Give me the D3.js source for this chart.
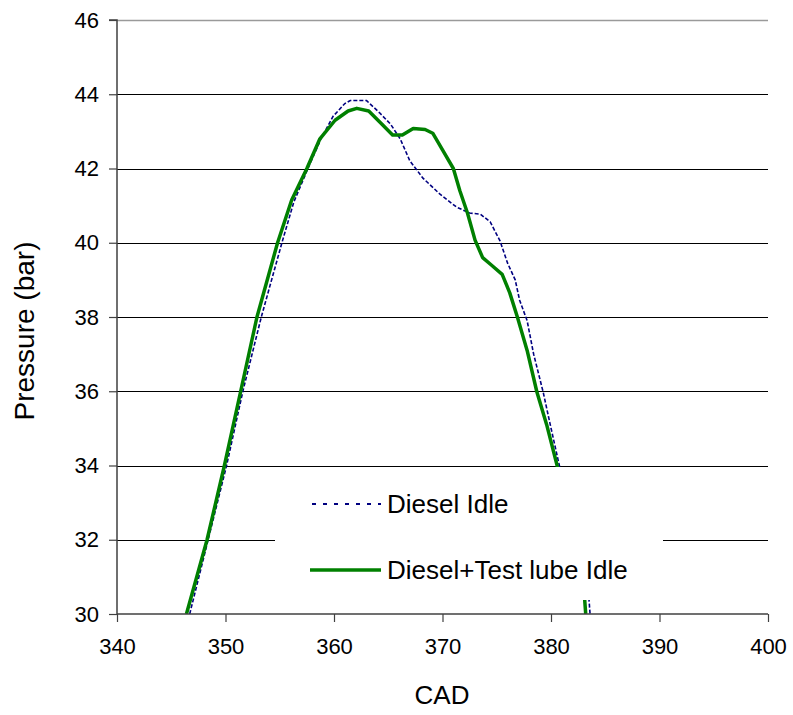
<!DOCTYPE html>
<html>
<head>
<meta charset="utf-8">
<script src="https://cdn.jsdelivr.net/npm/d3@7"></script>
<style>
  body { margin: 0; background: #fff; }
  svg text { font-family: "Liberation Sans", Arial, sans-serif; fill: #000; }
</style>
</head>
<body>
<svg id="chart" width="793" height="715"></svg>
<script>
// crank angle (CAD) and cylinder pressure (bar)
const dieselCad = [346.7, 348.4, 350.1, 351.6, 353.3, 355.2, 356.3, 357.6, 358.8, 359.9, 361.0, 361.5, 363.0, 364.2, 365.2, 366.1, 367.0, 368.2, 369.8, 371.3, 372.5, 373.5, 374.4, 375.3, 376.0, 376.7, 377.1, 377.8, 378.4, 379.3, 379.9, 380.8, 381.7, 382.8, 383.5, 383.6];
const dieselP   = [30.0, 32.0, 34.0, 36.0, 38.0, 40.0, 41.1, 42.0, 42.8, 43.4, 43.75, 43.83, 43.83, 43.5, 43.2, 42.8, 42.2, 41.74, 41.3, 40.96, 40.8, 40.77, 40.56, 40.05, 39.45, 39.0, 38.46, 37.9, 37.0, 35.95, 35.14, 33.96, 33.0, 31.5, 30.4, 30.0];

const lubeCad = [346.4, 348.3, 349.9, 351.4, 352.9, 354.8, 356.1, 357.5, 358.7, 360.1, 361.3, 362.1, 363.2, 364.4, 365.4, 366.3, 367.3, 368.4, 369.1, 370.0, 371.0, 371.6, 372.3, 373.0, 373.7, 374.5, 375.5, 376.2, 376.9, 377.8, 378.7, 379.6, 380.6, 381.5, 382.5, 383.1, 383.2];
const lubeP   = [30.0, 32.0, 34.0, 36.0, 38.0, 40.0, 41.15, 42.0, 42.8, 43.3, 43.55, 43.62, 43.55, 43.2, 42.9, 42.9, 43.08, 43.05, 42.95, 42.5, 42.0, 41.4, 40.8, 40.07, 39.6, 39.4, 39.15, 38.65, 38.0, 37.1, 35.98, 35.1, 33.96, 33.0, 31.5, 30.4, 30.0];

const xTicks = [340, 350, 360, 370, 380, 390, 400];
const yTicks = [30, 32, 34, 36, 38, 40, 42, 44, 46];
const seriesNames = ["Diesel Idle", "Diesel+Test lube Idle"];

const svg = d3.select("#chart");
const plotLeft = 117, plotRight = 768, plotTop = 20, plotBottom = 614;

const x = d3.scaleLinear().domain([340, 400]).range([plotLeft, plotRight]);
const y = d3.scaleLinear().domain([30, 46]).range([plotBottom, plotTop]);

// gridlines
svg.append("g")
  .selectAll("line")
  .data(yTicks.filter(d => d > 30))
  .join("line")
  .attr("x1", plotLeft).attr("x2", plotRight)
  .attr("y1", d => Math.round(y(d)) + 0.5)
  .attr("y2", d => Math.round(y(d)) + 0.5)
  .attr("stroke", d => d === 46 ? "#9a9a9a" : "#000")
  .attr("stroke-width", d => d === 46 ? 1.5 : 1);

// series
const line = d3.line().x(d => x(d[0])).y(d => y(d[1]));
svg.append("clipPath").attr("id", "plot")
  .append("rect").attr("x", plotLeft).attr("y", plotTop)
  .attr("width", plotRight - plotLeft).attr("height", plotBottom - plotTop);

const plot = svg.append("g").attr("clip-path", "url(#plot)");

plot.append("path")
  .datum(dieselCad.map((c, i) => [c, dieselP[i]]))
  .attr("d", line)
  .attr("fill", "none")
  .attr("stroke", "#000080")
  .attr("stroke-width", 1.6)
  .attr("stroke-dasharray", "4,2");

plot.append("path")
  .datum(lubeCad.map((c, i) => [c, lubeP[i]]))
  .attr("d", line)
  .attr("fill", "none")
  .attr("stroke", "#008000")
  .attr("stroke-width", 3.5)
  .attr("stroke-linejoin", "round");

// axes
const yAxis = svg.append("g")
  .attr("transform", `translate(${plotLeft},0)`)
  .call(d3.axisLeft(y).tickValues(yTicks).tickSize(8).tickPadding(10).tickFormat(d3.format("d")));
const xAxis = svg.append("g")
  .attr("transform", `translate(0,${plotBottom})`)
  .call(d3.axisBottom(x).tickValues(xTicks).tickSize(8).tickPadding(16).tickFormat(d3.format("d")));

[yAxis, xAxis].forEach(a => {
  a.select(".domain").attr("stroke", "#404040").attr("stroke-width", 1.5);
  a.selectAll(".tick line").attr("stroke", "#404040").attr("stroke-width", 1.2);
  a.selectAll(".tick text").style("font-size", "22px")
    .style("font-family", "'Liberation Sans', Arial, sans-serif");
});
yAxis.select(".domain").attr("d", `M-8,${plotTop}H0V${plotBottom}`);
xAxis.select(".domain").attr("d", `M${plotLeft},0H${plotRight}`);

// axis titles
svg.append("text")
  .attr("transform", `translate(34,331) rotate(-90)`)
  .attr("text-anchor", "middle")
  .style("font-size", "28px")
  .text("Pressure (bar)");

svg.append("text")
  .attr("x", 442).attr("y", 704)
  .attr("text-anchor", "middle")
  .style("font-size", "26px")
  .text("CAD");

// legend (white box over the plot)
const legend = svg.append("g");
legend.append("rect")
  .attr("x", 275).attr("y", 467).attr("width", 388).attr("height", 133)
  .attr("fill", "#fff");

const legendRows = [
  { name: seriesNames[0], color: "#000080", width: 2, dash: "4,7", yy: 504, x1: 312 },
  { name: seriesNames[1], color: "#008000", width: 3.5, dash: null, yy: 570, x1: 310 }
];
legendRows.forEach(r => {
  legend.append("line")
    .attr("x1", r.x1).attr("x2", 381)
    .attr("y1", r.yy).attr("y2", r.yy)
    .attr("stroke", r.color)
    .attr("stroke-width", r.width)
    .attr("stroke-dasharray", r.dash);
  legend.append("text")
    .attr("x", 387).attr("y", r.yy + 9)
    .style("font-size", "26px")
    .text(r.name);
});
</script>
</body>
</html>
